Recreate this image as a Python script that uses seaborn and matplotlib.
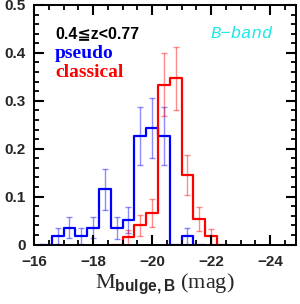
import numpy as np
import pandas as pd
import matplotlib
matplotlib.use("Agg")
import matplotlib.pyplot as plt
import seaborn as sns
from matplotlib.ticker import MultipleLocator, FuncFormatter

# ---- data (fraction per 0.4-mag bin) ----
blue_edges = [-16.2, -16.6, -17.0, -17.4, -17.8, -18.2, -18.6, -19.0, -19.4,
              -19.8, -20.2, -20.6, -21.0, -21.4, -21.8]
blue_vals = [0.0, 0.018, 0.035, 0.018, 0.035, 0.115, 0.035, 0.051, 0.227,
             0.243, 0.227, 0.0, 0.018, 0.0]
blue_err = [0.0, 0.016, 0.022, 0.016, 0.022, 0.042, 0.023, 0.028, 0.060,
            0.062, 0.060, 0.0, 0.016, 0.0]

red_edges = [-18.6, -19.0, -19.4, -19.8, -20.2, -20.6, -21.0, -21.4, -21.8,
             -22.2, -22.6]
red_vals = [0.0, 0.015, 0.040, 0.066, 0.334, 0.347, 0.145, 0.054, 0.017, 0.0]
red_err = [0.0, 0.016, 0.022, 0.029, 0.066, 0.066, 0.042, 0.025, 0.015, 0.0]

x_ticks = [-16, -18, -20, -22, -24]
y_ticks = [0, 0.1, 0.2, 0.3, 0.4, 0.5]

sns.set_style("ticks")
plt.rcParams.update({
    "font.family": ["Liberation Sans", "DejaVu Sans"],
    "mathtext.fontset": "custom",
    "mathtext.rm": "Liberation Serif",
    "mathtext.bf": "Liberation Sans:bold",
    "mathtext.it": "Liberation Serif:italic",
    "axes.axisbelow": False,
})

fig = plt.figure(figsize=(3.0, 3.04), dpi=100)
ax = fig.add_axes([34 / 300, 1 - 244.5 / 304, 262 / 300, 239.5 / 304])


def draw(edges, vals, errs, color):
    e = np.array(edges, dtype=float)
    v = np.array(vals, dtype=float)
    er = np.array(errs, dtype=float)
    centers = (e[:-1] + e[1:]) / 2
    df = pd.DataFrame({"mag": centers, "frac": v})
    sns.histplot(data=df, x="mag", weights="frac",
                 bins=[float(b) for b in sorted(e)],
                 element="step", fill=False, color=color, linewidth=1.6,
                 ax=ax)
    m = er > 0
    ax.errorbar(centers[m], v[m], yerr=er[m], fmt="none", ecolor=color,
                alpha=0.45, elinewidth=1.0, capsize=2.2, capthick=1.0)


draw(blue_edges, blue_vals, blue_err, "#0000ff")
draw(red_edges, red_vals, red_err, "#ff0000")

ax.set_xlim(-16, -24.88)
ax.set_ylim(0, 0.5)
ax.set_xticks(x_ticks)
ax.set_yticks(y_ticks)
ax.xaxis.set_minor_locator(MultipleLocator(0.5))
ax.yaxis.set_minor_locator(MultipleLocator(0.02))
ax.yaxis.set_major_formatter(FuncFormatter(lambda v, p: "0" if v == 0 else f"{v:.1f}"))
ax.tick_params(which="both", direction="in", top=True, right=True,
               bottom=True, left=True, color="black")
ax.tick_params(which="major", length=7, width=1.5)
ax.tick_params(which="minor", length=3.8, width=1.3)
ax.tick_params(axis="x", which="major", pad=7.5)
ax.tick_params(axis="y", which="major", pad=6)
for lab in ax.get_xticklabels() + ax.get_yticklabels():
    lab.set_fontweight("bold")
    lab.set_fontsize(11)
for s in ax.spines.values():
    s.set_visible(True)
    s.set_linewidth(1.4)
    s.set_color("black")

ax.set_ylabel("")
ax.set_xlabel(r"$\mathrm{M}_{\mathbf{bulge,B}}$ (mag)", family="Liberation Serif",
              fontsize=16, labelpad=2)

ax.text(0.08, 0.862, "0.4≦z<0.77", transform=ax.transAxes, fontsize=11.5,
        family=["Liberation Sans", "DejaVu Sans"], color="black",
        va="baseline", fontweight="bold")
ax.text(0.08, 0.779, "pseudo", transform=ax.transAxes, fontsize=14,
        family="Liberation Serif", color="#0000ff", va="baseline",
        fontweight="bold")
ax.text(0.08, 0.70, "classical", transform=ax.transAxes, fontsize=14,
        family="Liberation Serif", color="#ff0000", va="baseline",
        fontweight="bold")
ax.text(0.672, 0.862, "B\u2212band", transform=ax.transAxes, fontsize=12.5,
        family="Liberation Mono", style="italic", color="#1ee8e8",
        va="baseline")

fig.savefig("out.png", dpi=100)
